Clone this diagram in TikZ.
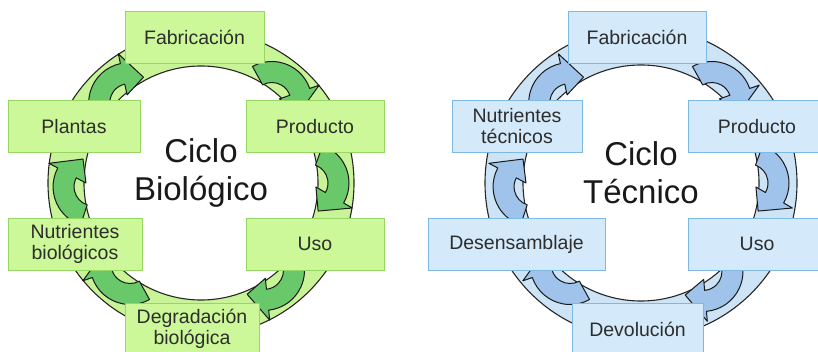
\documentclass[tikz,border=0pt]{standalone}
\usepackage{fontspec}
\setmainfont{Liberation Sans}
\definecolor{lgreen}{RGB}{204, 248, 153}
\definecolor{greenline}{RGB}{150, 215, 100}
\definecolor{ringgreen}{RGB}{200, 243, 150}
\definecolor{dgreen}{RGB}{105, 200, 105}
\definecolor{lblue}{RGB}{212, 234, 250}
\definecolor{blueline}{RGB}{125, 185, 228}
\definecolor{ringblue}{RGB}{205, 228, 247}
\definecolor{dblue}{RGB}{160, 195, 235}
\definecolor{textgray}{RGB}{45, 45, 45}
\tikzset{
  cyclebox/.style = {rectangle, line width=0.8pt, minimum height=52pt, inner sep=2pt,
    align=center, text=textgray, font=\fontsize{19.5}{21}\selectfont},
  gbox/.style = {cyclebox, draw=greenline, fill=lgreen},
  bbox/.style = {cyclebox, draw=blueline, fill=lblue},
  ringline/.style = {draw=black!85, line width=1.1pt},
  arrowshape/.style = {draw=black!90, line width=1pt, line join=round},
  title/.style = {align=center, text=black!90, font=\fontsize{33}{38}\selectfont}
}
% curved block arrow in the ring: #1 ring centre, #2 angle, #3 fill
\newcommand{\ringarrow}[3]{
  \begin{scope}[shift={#1}, rotate=#2-90, shift={(0,108)}]
    \draw[arrowshape, fill=#3] (160:19) arc[start angle=160, end angle=60, radius=19]
      -- (60:8) -- (18:29.5) -- (60:50) -- (60:40)
      arc[start angle=60, end angle=160, radius=40] -- cycle;
  \end{scope}
}
\begin{document}
\begin{tikzpicture}[x=1pt, y=1pt]
  \clip (0,0) rectangle (818,351);
  % ciclo biologico
  \fill[ringgreen, even odd rule] (201,168) circle[radius=153] (201,168) circle[radius=117];
  \draw[ringline] (201,168) circle[radius=153];
  \draw[ringline] (201,168) circle[radius=117];
  \ringarrow{(201,168)}{132}{dgreen}
  \ringarrow{(201,168)}{49}{dgreen}
  \ringarrow{(201,168)}{0}{dgreen}
  \ringarrow{(201,168)}{-54}{dgreen}
  \ringarrow{(201,168)}{-131}{dgreen}
  \ringarrow{(201,168)}{182}{dgreen}
  \node (fab1) at (194.5,313.5) [gbox, minimum width=139pt] {Fabricación};
  \node (prod1) at (315,224.5) [gbox, minimum width=138pt] {Producto};
  \node (uso1) at (315,107) [gbox, minimum width=138pt] {Uso};
  \node (degr1) at (192,22) [gbox, minimum width=134pt] {Degradación\\biológica};
  \node (nutr1) at (75,107) [gbox, minimum width=134pt] {Nutrientes\\biológicos};
  \node (plan1) at (74,224.5) [gbox, minimum width=132pt] {Plantas};
  \node (title1) at (201,178) [title] {Ciclo\\Biológico};
  % ciclo tecnico
  \fill[ringblue, even odd rule] (641,168) circle[radius=156] (641,168) circle[radius=118];
  \draw[ringline] (641,168) circle[radius=156];
  \draw[ringline] (641,168) circle[radius=118];
  \ringarrow{(641,168)}{132}{dblue}
  \ringarrow{(641,168)}{49}{dblue}
  \ringarrow{(641,168)}{0}{dblue}
  \ringarrow{(641,168)}{-55}{dblue}
  \ringarrow{(641,168)}{-131}{dblue}
  \ringarrow{(641,168)}{182}{dblue}
  \node (fab2) at (637,313.5) [bbox, minimum width=138pt] {Fabricación};
  \node (prod2) at (757,224.5) [bbox, minimum width=138pt] {Producto};
  \node (uso2) at (757,107) [bbox, minimum width=138pt] {Uso};
  \node (devo2) at (637.5,22) [bbox, minimum width=131pt] {Devolución};
  \node (dese2) at (516.5,107) [bbox, minimum width=177pt] {Desensamblaje};
  \node (nutr2) at (517,224.5) [bbox, minimum width=130pt] {Nutrientes\\técnicos};
  \node (title2) at (641,178) [title] {Ciclo\\Técnico};
\end{tikzpicture}
\end{document}
